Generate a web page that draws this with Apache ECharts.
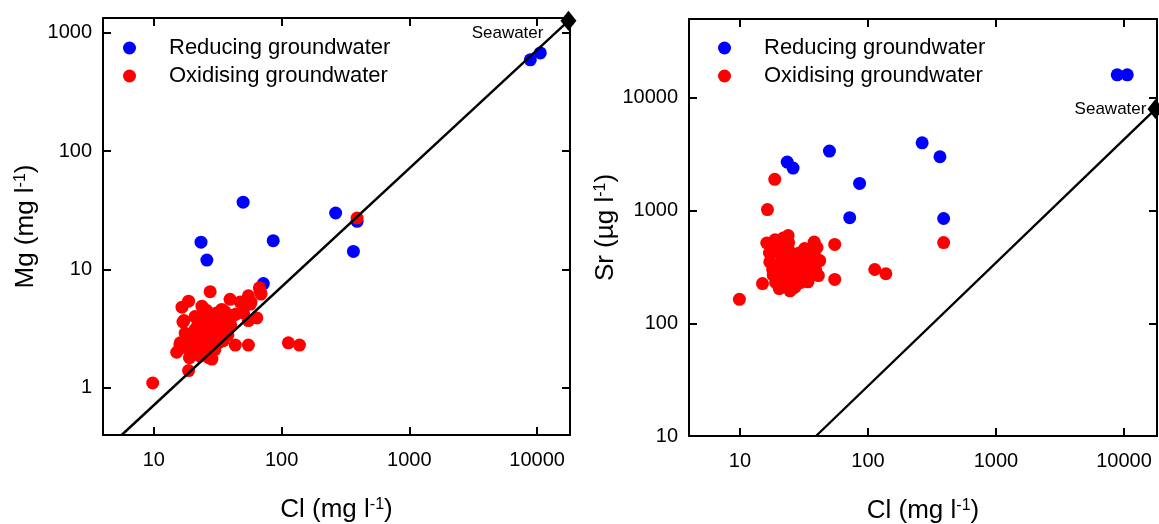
<!DOCTYPE html>
<html><head><meta charset="utf-8">
<script src="https://cdn.jsdelivr.net/npm/echarts@6/dist/echarts.min.js"></script>
<style>html,body{margin:0;padding:0;background:#fff}#c{width:1159px;height:524px}</style>
</head><body><div id="c"></div>
<script>
// ---- axis ranges ----
const clRange = [4, 18100];
const mgRange = [0.4, 1330];
const srRange = [10, 50000];

// ---- seawater reference ----
const seawaterCl = 17600, seawaterMg = 1260, seawaterSr = 7950;
const mgLineStart = [5.6, 0.4];
const srLineStart = [39.3, 10];

// ---- reducing groundwater ----
const reducingCl = [50, 23.4, 26, 86, 265, 390, 365, 72, 8850, 10600];
const reducingMg = [37, 17, 12, 17.5, 30, 25.5, 14.2, 7.6, 590, 675];
const reducingSr = [3370, 2690, 2380, 1740, 3990, 850, 3000, 865, 16000, 16000];

// ---- oxidising groundwater (Mg panel) ----
const oxidisingClMg = [9.8,18.7,27.6,18.7,16.6,23.8,16.9,39.5,47.4,55,68,57.6,50.4,64,55,42,113,138,55,43.4,28.5,15.1,16.1,17.6,67,69,57,390,17.2,
 18,19,20,20,21,21,22,22,22,23,23,24,24,24,25,25,26,26,26,27,27,28,28,28,29,29,30,30,31,32,32,33,34,35,35,37,38,40,19,20,23,25,27,30,17,16,21,24,26,29,31,34,36,44];
const oxidisingMg = [1.1,1.4,6.5,5.4,4.8,4.9,3.6,5.6,5.3,6.0,6.6,5.3,4.3,3.9,3.7,4.1,2.4,2.3,2.3,2.3,1.75,2.0,2.4,2.9,7.0,6.2,5.1,27.2,3.7,
 2.2,2.5,2.1,2.8,2.4,3.1,2.0,2.6,3.4,2.3,2.9,2.1,2.5,3.2,2.7,3.6,2.2,2.9,3.3,2.5,3.0,2.0,2.7,3.5,2.3,3.1,2.6,3.8,2.9,2.4,3.3,2.7,3.0,2.5,3.6,3.2,2.8,3.4,1.8,1.9,1.85,1.95,1.8,2.1,2.2,2.3,4.0,4.2,4.5,4.0,4.3,4.6,4.4,4.2];

// ---- oxidising groundwater (Sr panel) ----
const oxidisingClSr = [18.7,16.4,55,390,55,15,9.9,113,138,
 16.2,18.8,23.8,21.8,38,40,42,41,34,24.6,20.3,18.2,17.1,32,
 19,20,20,21,21,22,22,23,23,23,24,24,25,25,26,26,27,27,28,28,29,29,30,30,31,31,32,33,33,34,35,36,36,37,38,39,20,22,24,26,19,18,17];
const oxidisingSr = [1890,1020,500,520,245,225,163,300,275,
 515,550,600,570,525,470,360,265,233,194,203,267,350,460,
 480,420,330,290,240,380,450,310,260,220,350,520,280,410,240,330,300,210,370,260,420,320,280,230,360,400,300,340,260,430,310,380,280,340,420,300,520,500,450,205,230,300,420];

const FONT = '"Liberation Sans", Arial, sans-serif';
const zip = (a, b) => a.map((v, i) => [v, b[i]]);
const fmt = v => { const l = Math.log10(v); return Math.abs(l - Math.round(l)) < 1e-6 ? String(Math.round(v)) : ''; };

const lineStyle = { color: '#000', width: 2 };
function mkAxis(gridIndex, pos, range, showLabel, margin, name, nameGap) {
  return {
    type: 'log', logBase: 10, gridIndex, position: pos, min: range[0], max: range[1], splitNumber: 3,
    axisLine: { show: true, onZero: false, lineStyle },
    axisTick: { show: true, inside: true, length: 8, lineStyle },
    minorTick: { show: false }, splitLine: { show: false },
    axisLabel: { show: showLabel, formatter: fmt, fontSize: 20, color: '#000', fontFamily: FONT, margin },
    name: name || '', nameLocation: 'middle', nameGap: nameGap || 0,
    nameTextStyle: { color: '#000', fontFamily: FONT, rich: {
      a: { fontSize: 26, fontFamily: FONT, color: '#000' },
      s: { fontSize: 16, fontFamily: FONT, color: '#000', verticalAlign: 'top' } } }
  };
}
const clName = '{a|Cl (mg l}{s|-1}{a|)}';

const chart = echarts.init(document.getElementById('c'), null, { renderer: 'canvas' });
const legendNames = ['Reducing groundwater', 'Oxidising groundwater'];
function mkLegend(left) {
  return { data: legendNames, orient: 'vertical', left, top: 32, icon: 'circle', itemWidth: 13, itemHeight: 13,
    itemGap: 6, selectedMode: false,
    textStyle: { fontSize: 22, fontFamily: FONT, color: '#000', padding: [0, 0, 0, 28] } };
}
function scatter(name, xi, yi, data, color) {
  return { name, type: 'scatter', xAxisIndex: xi, yAxisIndex: yi, data, symbolSize: 13,
    itemStyle: { color, opacity: 1 }, emphasis: { disabled: true }, silent: true };
}
function seaLine(xi, yi, start, end) {
  return { type: 'line', xAxisIndex: xi, yAxisIndex: yi, data: [start, end], symbol: 'none',
    lineStyle: { color: '#000', width: 2.4 }, z: 5, silent: true, clip: true };
}
function seaPoint(xi, yi, pt, offset) {
  return { type: 'scatter', xAxisIndex: xi, yAxisIndex: yi, data: [pt], symbol: 'diamond', symbolSize: [16, 20],
    itemStyle: { color: '#000', opacity: 1 }, clip: false, z: 6, silent: true,
    label: { show: true, formatter: 'Seawater', position: 'left', offset, fontSize: 17, fontFamily: FONT, color: '#000' } };
}

chart.setOption({
  animation: false,
  backgroundColor: '#fff',
  grid: [
    { left: 103, top: 18, width: 467, height: 417, outerBoundsMode: 'none', containLabel: false },
    { left: 689, top: 19, width: 468, height: 417, outerBoundsMode: 'none', containLabel: false }
  ],
  legend: [mkLegend(118), mkLegend(713)],
  xAxis: [
    mkAxis(0, 'bottom', clRange, true, 15, clName, 62),
    mkAxis(0, 'top', clRange, false, 8),
    mkAxis(1, 'bottom', clRange, true, 15, clName, 62),
    mkAxis(1, 'top', clRange, false, 8)
  ],
  yAxis: [
    mkAxis(0, 'left', mgRange, true, 11, '{a|Mg (mg l}{s|-1}{a|)}', 64),
    mkAxis(0, 'right', mgRange, false, 8),
    mkAxis(1, 'left', srRange, true, 11, '{a|Sr (µg l}{s|-1}{a|)}', 70),
    mkAxis(1, 'right', srRange, false, 8)
  ],
  series: [
    scatter('Reducing groundwater', 0, 0, zip(reducingCl, reducingMg), '#0000ff'),
    scatter('Oxidising groundwater', 0, 0, zip(oxidisingClMg, oxidisingMg), '#ff0000'),
    seaLine(0, 0, mgLineStart, [seawaterCl, seawaterMg]),
    seaPoint(0, 0, [seawaterCl, seawaterMg], [-12, 13]),
    scatter('Reducing groundwater', 2, 2, zip(reducingCl, reducingSr), '#0000ff'),
    scatter('Oxidising groundwater', 2, 2, zip(oxidisingClSr, oxidisingSr), '#ff0000'),
    seaLine(2, 2, srLineStart, [seawaterCl, seawaterSr]),
    seaPoint(2, 2, [seawaterCl, seawaterSr], [4, 0])
  ]
});
</script></body></html>
